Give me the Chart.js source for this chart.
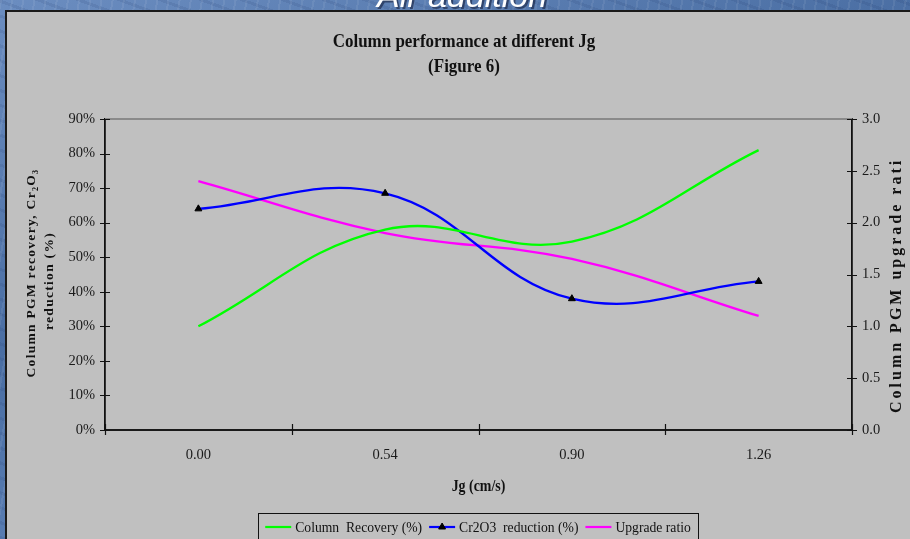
<!DOCTYPE html>
<html>
<head>
<meta charset="utf-8">
<script src="https://cdn.jsdelivr.net/npm/chart.js@4/dist/chart.umd.min.js"></script>
<style>
  html, body { margin: 0; padding: 0; width: 910px; height: 539px; overflow: hidden; }
  body {
    background:
      repeating-linear-gradient(100deg, rgba(255,255,255,0.07) 0 2px, rgba(0,0,0,0) 2px 11px),
      repeating-linear-gradient(20deg, rgba(20,40,90,0.10) 0 3px, rgba(0,0,0,0) 3px 14px),
      linear-gradient(160deg, #6b8dc0 0%, #4a6ea3 40%, #5d81b6 70%, #42679b 100%);
  }
  canvas { display: block; }
</style>
</head>
<body>
<canvas id="chart" width="910" height="539"></canvas>
<script>
// Superficial gas velocity Jg (cm/s)
const categories = ['0.00', '0.54', '0.90', '1.26'];
// Column PGM recovery (%)
const columnRecovery = [30, 58, 54.5, 81];
// Cr2O3 reduction (%)
const cr2o3Reduction = [64, 68.5, 38, 43];
// Column PGM upgrade ratio
const upgradeRatio = [2.4, 1.9, 1.65, 1.1];

const SERIF = '"Liberation Serif", "Times New Roman", serif';

// text squeezed horizontally, like the narrow serif of the original sheet
function narrowText(ctx, text, x, y, k) {
  ctx.save();
  ctx.translate(x, y);
  ctx.scale(k, 1);
  ctx.fillText(text, 0, 0);
  ctx.restore();
}

// Slide heading, grey chart panel, plot frame, titles and legend
const panelPlugin = {
  id: 'panel',
  beforeDraw(chart) {
    const ctx = chart.ctx;
    ctx.save();
    ctx.font = 'italic 34px "Liberation Sans", Arial, sans-serif';
    ctx.textAlign = 'center';
    ctx.textBaseline = 'alphabetic';
    ctx.fillStyle = 'rgba(20,30,60,0.6)';
    ctx.fillText('Air addition', 464, 9);
    ctx.fillStyle = '#ffffff';
    ctx.fillText('Air addition', 462, 7);

    ctx.fillStyle = '#C0C0C0';
    ctx.fillRect(6, 11, 930, 540);
    ctx.strokeStyle = '#1a1a1a';
    ctx.lineWidth = 2;
    ctx.strokeRect(6, 11, 930, 540);
    ctx.restore();
  },
  afterDraw(chart) {
    const ctx = chart.ctx;
    const a = chart.chartArea;
    const sx = chart.scales.x, sy = chart.scales.y, sy1 = chart.scales.y1;
    ctx.save();

    // top edge of the plot area
    ctx.strokeStyle = '#8a8a8a';
    ctx.lineWidth = 2;
    ctx.beginPath();
    ctx.moveTo(a.left, a.top);
    ctx.lineTo(a.right, a.top);
    ctx.stroke();

    // cross tick marks
    ctx.strokeStyle = '#111';
    ctx.lineWidth = 1.2;
    ctx.beginPath();
    sy.ticks.forEach(t => {
      const p = Math.round(sy.getPixelForValue(t.value)) + 0.5;
      ctx.moveTo(a.left - 5, p); ctx.lineTo(a.left + 5, p);
    });
    sy1.ticks.forEach(t => {
      const p = Math.round(sy1.getPixelForValue(t.value)) + 0.5;
      ctx.moveTo(a.right - 5, p); ctx.lineTo(a.right + 5, p);
    });
    const n = categories.length;
    for (let i = 0; i <= n; i++) {
      let p;
      if (i === 0) p = a.left;
      else if (i === n) p = a.right;
      else p = (sx.getPixelForValue(i - 1) + sx.getPixelForValue(i)) / 2;
      p = Math.round(p) + 0.5;
      ctx.moveTo(p, a.bottom - 6); ctx.lineTo(p, a.bottom + 5);
    }
    ctx.stroke();

    // chart titles
    ctx.fillStyle = '#111';
    ctx.textAlign = 'center';
    ctx.textBaseline = 'middle';
    ctx.font = 'bold 19.5px ' + SERIF;
    narrowText(ctx, 'Column performance at different Jg', 464, 42, 0.87);
    narrowText(ctx, '(Figure 6)', 464, 67, 0.87);

    ctx.font = 'bold 16px ' + SERIF;
    narrowText(ctx, 'Jg (cm/s)', (a.left + a.right) / 2, 487, 0.87);

    // left axis title (two lines)
    ctx.save();
    ctx.translate(32, 273);
    ctx.rotate(-Math.PI / 2);
    ctx.font = 'bold 13.5px ' + SERIF;
    ctx.letterSpacing = '1.3px';
    ctx.fillText('Column PGM recovery, Cr\u2082O\u2083', 0, 0);
    ctx.fillText('reduction (%)', -8, 18);
    ctx.restore();

    // right axis title, cut off at its upper end
    ctx.save();
    ctx.beginPath();
    ctx.rect(880, 158, 40, 300);
    ctx.clip();
    ctx.translate(897, 413);
    ctx.rotate(-Math.PI / 2);
    ctx.font = 'bold 16px ' + SERIF;
    ctx.letterSpacing = '3px';
    ctx.textAlign = 'left';
    ctx.fillText('Column PGM upgrade ratio', 0, 0);
    ctx.restore();

    // legend
    const lx0 = 258, lx1 = 698, ly0 = 513, ly1 = 541, ly = 527;
    const k = 0.88;
    ctx.fillStyle = '#C0C0C0';
    ctx.fillRect(lx0, ly0, lx1 - lx0, ly1 - ly0);
    ctx.strokeStyle = '#111';
    ctx.lineWidth = 1;
    ctx.strokeRect(lx0 + 0.5, ly0 + 0.5, lx1 - lx0, ly1 - ly0);
    ctx.font = '15.5px ' + SERIF;
    ctx.textAlign = 'left';
    ctx.textBaseline = 'middle';
    const sample = 26, gapA = 4, gapB = 7;
    const items = chart.data.datasets.map(ds => ({ ds, w: ctx.measureText(ds.label).width * k }));
    const total = items.reduce((s, it) => s + sample + gapA + it.w, 0) + gapB * (items.length - 1);
    let x = (lx0 + lx1) / 2 - total / 2;
    items.forEach(({ ds, w }) => {
      ctx.strokeStyle = ds.borderColor;
      ctx.lineWidth = 2.2;
      ctx.beginPath();
      ctx.moveTo(x, ly); ctx.lineTo(x + sample, ly);
      ctx.stroke();
      if (ds.pointRadius > 0) {
        ctx.fillStyle = '#000';
        ctx.strokeStyle = '#000';
        ctx.lineWidth = 1;
        Chart.helpers.drawPoint(ctx, { pointStyle: ds.pointStyle, radius: ds.pointRadius, borderWidth: 1 }, x + sample / 2, ly);
      }
      ctx.fillStyle = '#111';
      narrowText(ctx, ds.label, x + sample + gapA, ly + 0.5, k);
      x += sample + gapA + w + gapB;
    });

    ctx.restore();
  }
};

const tickFont = { family: SERIF, size: 14.5 };

new Chart(document.getElementById('chart'), {
  type: 'line',
  data: {
    labels: categories,
    datasets: [
      {
        label: 'Column  Recovery (%)',
        data: columnRecovery,
        yAxisID: 'y',
        borderColor: '#00FF00',
        borderWidth: 2.3,
        pointRadius: 0,
        tension: 0.4
      },
      {
        label: 'Cr2O3  reduction (%)',
        data: cr2o3Reduction,
        yAxisID: 'y',
        borderColor: '#0000FF',
        borderWidth: 2.3,
        pointStyle: 'triangle',
        pointRadius: 4,
        pointBackgroundColor: '#000',
        pointBorderColor: '#000',
        pointBorderWidth: 1,
        tension: 0.4
      },
      {
        label: 'Upgrade ratio',
        data: upgradeRatio,
        yAxisID: 'y1',
        borderColor: '#FF00FF',
        borderWidth: 2.3,
        pointRadius: 0,
        tension: 0.4
      }
    ]
  },
  options: {
    responsive: false,
    animation: false,
    devicePixelRatio: 1,
    layout: { padding: { top: 119, left: 0, right: 0, bottom: 0 } },
    plugins: {
      legend: { display: false },
      title: { display: false },
      tooltip: { enabled: false }
    },
    scales: {
      x: {
        type: 'category',
        offset: true,
        grid: { display: false, drawTicks: false },
        border: { display: true, color: '#1a1a1a', width: 2 },
        ticks: { font: tickFont, color: '#1a1a1a', padding: 16, maxRotation: 0 },
        afterFit(s) { s.height = 109; }
      },
      y: {
        position: 'left',
        min: 0,
        max: 90,
        grid: { display: false, drawTicks: false },
        border: { display: true, color: '#111', width: 1.8 },
        ticks: { stepSize: 10, font: tickFont, color: '#1a1a1a', padding: 10, callback: v => v + '%' },
        afterFit(s) { s.width = 105; }
      },
      y1: {
        position: 'right',
        min: 0,
        max: 3,
        grid: { display: false, drawTicks: false },
        border: { display: true, color: '#111', width: 1.8 },
        ticks: { stepSize: 0.5, font: tickFont, color: '#1a1a1a', padding: 10, callback: v => v.toFixed(1) },
        afterFit(s) { s.width = 58; }
      }
    }
  },
  plugins: [panelPlugin]
});
</script>
</body>
</html>
